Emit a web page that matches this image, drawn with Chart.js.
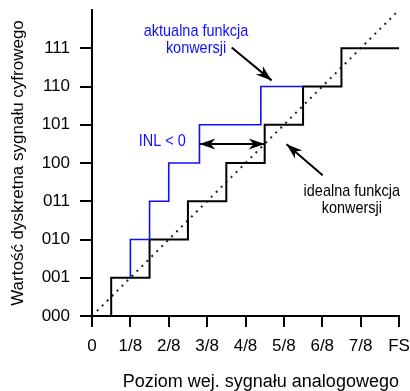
<!DOCTYPE html>
<html>
<head>
<meta charset="utf-8">
<script src="https://cdn.jsdelivr.net/npm/chart.js@4.4.1/dist/chart.umd.min.js"></script>
<style>
  html, body { margin: 0; padding: 0; background: #fff; }
  #wrap { width: 410px; height: 391px; }
</style>
</head>
<body>
<div id="wrap"><canvas id="c" width="410" height="391"></canvas></div>
<script>
// Tick labels: input level as a fraction of full scale, output as 3-bit codes
const xTickLabels = ['0', '1/8', '2/8', '3/8', '4/8', '5/8', '6/8', '7/8', 'FS'];
const yTickLabels = ['000', '001', '010', '011', '100', '101', '110', '111'];

// Ideal transfer function: step start (in LSB) and output code
const idealX = [0.5, 0.5, 1.5, 2.5, 3.5, 4.5, 5.5, 6.5, 8];
const idealY = [0, 1, 2, 3, 4, 5, 6, 7, 7];

// Actual transfer function (deviates from ideal between codes 001 and 110)
const actualX = [1, 1, 1.5, 2, 2.8, 4.4, 5.5];
const actualY = [1, 2, 3, 4, 5, 6, 6];

// Straight reference line of an infinite-resolution converter
const diagX = [0, 8];
const diagY = [0, 8];

const toPoints = (xs, ys) => xs.map((x, i) => ({ x, y: ys[i] }));

const FONT = "'Liberation Sans', Arial, Helvetica, sans-serif";
const BLUE = '#0f0fff';

// Arrowhead with a notched back
function arrowHead(ctx, tx, ty, fx, fy) {
  const ang = Math.atan2(ty - fy, tx - fx);
  const len = 16, half = 5.5, notch = 5;
  ctx.save();
  ctx.translate(tx, ty);
  ctx.rotate(ang);
  ctx.beginPath();
  ctx.moveTo(0, 0);
  ctx.lineTo(-len, -half);
  ctx.lineTo(-len + notch, 0);
  ctx.lineTo(-len, half);
  ctx.closePath();
  ctx.fill();
  ctx.restore();
}

function arrow(ctx, x1, y1, x2, y2, both) {
  ctx.beginPath();
  ctx.moveTo(x1, y1);
  ctx.lineTo(x2, y2);
  ctx.stroke();
  arrowHead(ctx, x2, y2, x1, y1);
  if (both) arrowHead(ctx, x1, y1, x2, y2);
}

// Narrow (horizontally compressed) centred text for the callouts
function narrowText(ctx, text, x, y) {
  ctx.save();
  ctx.translate(x, y);
  ctx.scale(0.85, 1);
  ctx.fillText(text, 0, 0);
  ctx.restore();
}

const notes = {
  id: 'notes',
  afterDatasetsDraw(chart) {
    const ctx = chart.ctx;
    const xs = chart.scales.x, ys = chart.scales.y;
    const px = v => xs.getPixelForValue(v);
    const py = v => ys.getPixelForValue(v);
    ctx.save();
    ctx.strokeStyle = '#000';
    ctx.fillStyle = '#000';
    ctx.lineWidth = 2;
    // arrow to the actual characteristic
    arrow(ctx, px(3.64), py(7.02), px(4.68), py(6.16), false);
    // INL double arrow between actual and ideal transitions
    arrow(ctx, px(2.8), py(4.5), px(4.5), py(4.5), true);
    // arrow to the ideal characteristic
    arrow(ctx, px(6.01), py(3.68), px(5.07), py(4.49), false);

    ctx.font = '17px ' + FONT;
    ctx.textAlign = 'center';
    ctx.textBaseline = 'middle';
    ctx.fillStyle = BLUE;
    narrowText(ctx, 'aktualna funkcja', px(2.71), py(7.44));
    narrowText(ctx, 'konwersji', px(2.71), py(7.44) + 17);
    narrowText(ctx, 'INL < 0', px(1.83), py(4.57));
    ctx.fillStyle = '#000';
    narrowText(ctx, 'idealna funkcja', px(6.77), py(3.26));
    narrowText(ctx, 'konwersji', px(6.77), py(3.26) + 17);

    // axis titles
    ctx.font = '18px ' + FONT;
    ctx.fillText('Poziom wej. sygnału analogowego', px(4.4), 382);
    ctx.font = '17px ' + FONT;
    ctx.translate(18, (ys.top + ys.bottom) / 2);
    ctx.rotate(-Math.PI / 2);
    ctx.fillText('Wartość dyskretna sygnału cyfrowego', 0, 0);
    ctx.restore();
  }
};

const axisCommon = {
  type: 'linear',
  min: 0,
  max: 8,
  border: { display: true, color: '#000', width: 2 },
  grid: {
    display: true,
    drawOnChartArea: false,
    drawTicks: true,
    color: '#000',
    tickColor: '#000',
    lineWidth: 2,
    tickWidth: 2
  }
};

new Chart(document.getElementById('c'), {
  type: 'scatter',
  data: {
    datasets: [
      {
        label: 'aktualna funkcja konwersji',
        data: toPoints(actualX, actualY),
        showLine: true,
        stepped: 'before',
        borderColor: BLUE,
        borderWidth: 1.6,
        pointRadius: 0,
        fill: false,
        order: 0
      },
      {
        label: 'idealna funkcja konwersji',
        data: toPoints(idealX, idealY),
        showLine: true,
        stepped: 'before',
        borderColor: '#000',
        borderWidth: 2,
        pointRadius: 0,
        fill: false,
        order: 1
      },
      {
        label: 'y = x',
        data: toPoints(diagX, diagY),
        showLine: true,
        borderColor: '#222',
        borderWidth: 2,
        borderDash: [2, 5],
        pointRadius: 0,
        fill: false,
        order: 2
      }
    ]
  },
  options: {
    responsive: false,
    animation: false,
    devicePixelRatio: 1,
    layout: { padding: { top: 10, right: 11, left: 0, bottom: 0 } },
    plugins: { legend: { display: false }, tooltip: { enabled: false } },
    scales: {
      x: Object.assign({}, axisCommon, {
        position: 'bottom',
        grid: Object.assign({}, axisCommon.grid, { tickLength: 11 }),
        ticks: {
          stepSize: 1,
          autoSkip: false,
          maxRotation: 0,
          padding: 9,
          color: '#000',
          font: { family: FONT, size: 17 },
          callback: v => xTickLabels[v]
        },
        afterFit: s => { s.height = 75; s.paddingLeft = 0; s.paddingRight = 0; }
      }),
      y: Object.assign({}, axisCommon, {
        position: 'left',
        grid: Object.assign({}, axisCommon.grid, { tickLength: 12 }),
        ticks: {
          stepSize: 1,
          autoSkip: false,
          padding: 10,
          color: '#000',
          font: { family: FONT, size: 17 },
          callback: v => yTickLabels[v]
        },
        afterBuildTicks: s => { s.ticks = s.ticks.filter(t => t.value <= 7); },
        afterFit: s => { s.width = 92; s.paddingTop = 0; s.paddingBottom = 0; }
      })
    }
  },
  plugins: [notes]
});
</script>
</body>
</html>
